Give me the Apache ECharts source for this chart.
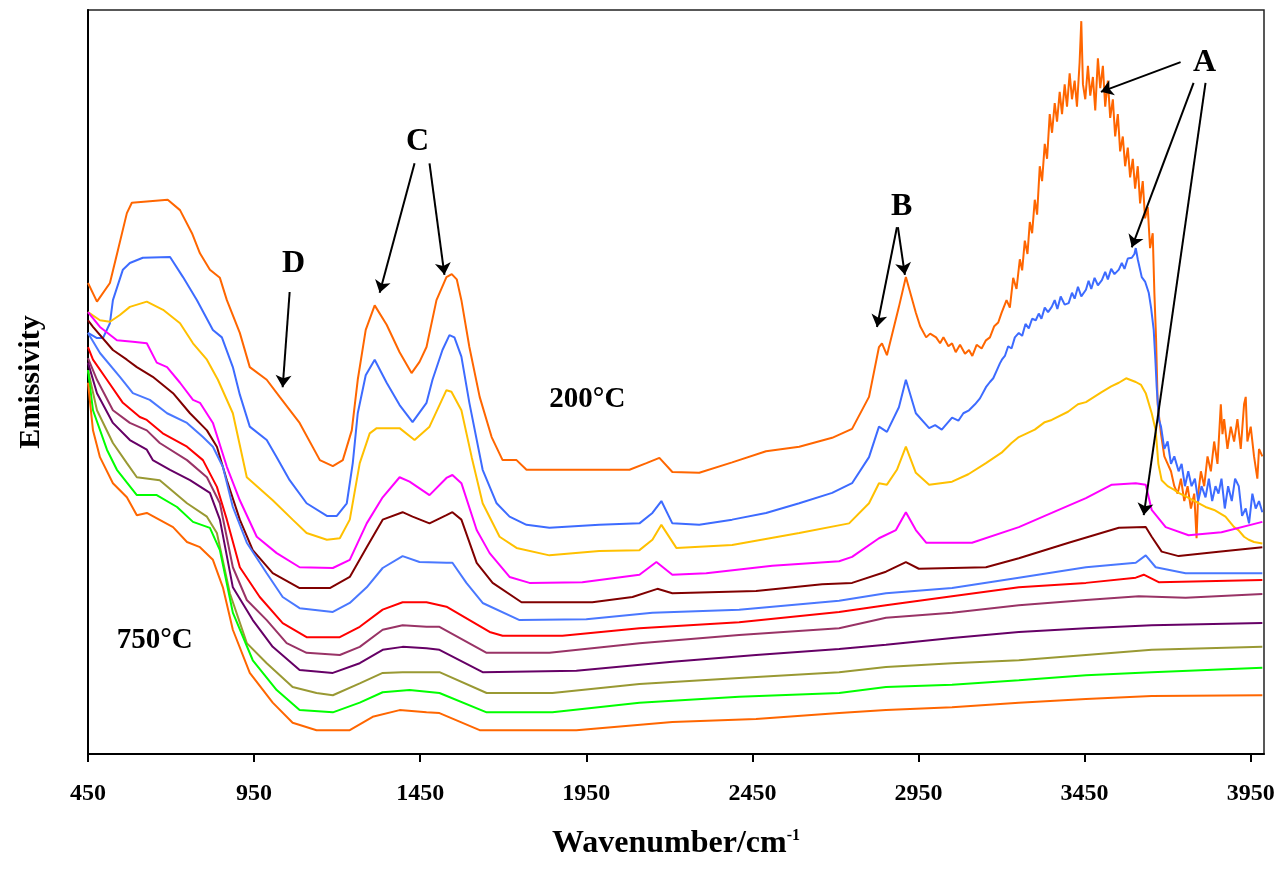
<!DOCTYPE html>
<html>
<head>
<meta charset="utf-8">
<script src="https://cdn.jsdelivr.net/npm/echarts@6/dist/echarts.min.js"></script>
<style>
    html, body { margin: 0; padding: 0; background: #fff; }
    #main { width: 1283px; height: 869px; }
</style>
</head>
<body>
<div id="main"></div>
<script>
(function (window) {
    "use strict";

    // wavenumber (cm-1), emissivity (a.u.), 200°C at top ... 750°C at bottom
    var s200 = [[450,.633],[477,.608],[516,.633],[540,.677],[567,.727],[582,.741],[636,.743],[690,.745],[727,.731],[763,.700],[787,.673],[817,.651],[847,.640],[868,.610],[907,.566],[937,.520],[988,.503],[1027,.480],[1087,.445],[1148,.395],[1187,.387],[1217,.395],[1244,.435],[1262,.503],[1286,.570],[1313,.603],[1349,.577],[1388,.540],[1424,.512],[1448,.527],[1469,.547],[1499,.610],[1529,.641],[1545,.645],[1560,.638],[1574,.610],[1598,.547],[1629,.480],[1665,.426],[1698,.395],[1740,.395],[1770,.382],[2080,.382],[2131,.391],[2170,.398],[2209,.379],[2290,.378],[2389,.392],[2491,.407],[2591,.413],[2690,.425],[2750,.437],[2801,.480],[2831,.547],[2840,.552],[2855,.536],[2891,.601],[2912,.641],[2942,.593],[2955,.575],[2973,.560],[2985,.565],[3003,.560],[3015,.552],[3025,.560],[3040,.548],[3051,.552],[3062,.540],[3075,.550],[3090,.538],[3102,.543],[3112,.535],[3125,.550],[3140,.545],[3153,.556],[3165,.560],[3178,.575],[3190,.580],[3200,.593],[3215,.610],[3225,.600],[3235,.640],[3245,.625],[3255,.665],[3262,.650],[3270,.690],[3278,.672],[3285,.715],[3292,.700],[3300,.745],[3307,.725],[3315,.790],[3322,.770],[3330,.820],[3337,.800],[3345,.860],[3352,.835],[3360,.875],[3367,.850],[3375,.890],[3382,.860],[3390,.900],[3397,.870],[3405,.915],[3412,.880],[3420,.905],[3427,.870],[3435,.930],[3440,.985],[3445,.900],[3452,.880],[3460,.925],[3467,.885],[3475,.910],[3482,.865],[3490,.935],[3497,.895],[3505,.925],[3512,.870],[3520,.905],[3527,.855],[3535,.880],[3542,.830],[3550,.860],[3557,.810],[3565,.830],[3572,.790],[3580,.815],[3587,.775],[3595,.800],[3602,.760],[3610,.790],[3617,.740],[3625,.770],[3632,.720],[3640,.735],[3647,.680],[3655,.700],[3660,.620],[3665,.560],[3670,.470],[3680,.430],[3690,.400],[3700,.390],[3710,.380],[3720,.360],[3730,.350],[3740,.370],[3750,.340],[3760,.360],[3770,.330],[3780,.350],[3787,.290],[3792,.350],[3800,.380],[3810,.360],[3820,.400],[3830,.380],[3840,.420],[3850,.390],[3860,.470],[3865,.430],[3870,.450],[3880,.410],[3890,.440],[3900,.420],[3910,.450],[3920,.410],[3930,.470],[3935,.480],[3940,.420],[3950,.440],[3960,.400],[3970,.370],[3975,.410],[3985,.400]];
    var s250 = [[450,.566],[477,.559],[495,.559],[516,.579],[525,.610],[555,.651],[576,.660],[615,.667],[697,.668],[736,.641],[778,.610],[826,.570],[853,.560],[886,.520],[907,.483],[937,.440],[988,.422],[1018,.399],[1057,.368],[1108,.337],[1169,.320],[1199,.320],[1229,.337],[1247,.391],[1262,.458],[1286,.509],[1313,.530],[1349,.499],[1388,.469],[1427,.446],[1469,.472],[1487,.503],[1517,.543],[1538,.563],[1553,.560],[1574,.534],[1598,.472],[1638,.382],[1680,.337],[1719,.319],[1770,.308],[1839,.304],[1989,.308],[2110,.310],[2149,.324],[2176,.340],[2209,.310],[2290,.308],[2389,.315],[2491,.324],[2591,.337],[2690,.351],[2750,.364],[2801,.399],[2831,.440],[2855,.433],[2891,.466],[2912,.503],[2942,.458],[2982,.438],[3000,.442],[3020,.436],[3051,.452],[3070,.448],[3085,.458],[3102,.462],[3120,.470],[3135,.478],[3153,.493],[3165,.500],[3175,.505],[3185,.515],[3195,.525],[3201,.530],[3210,.535],[3220,.548],[3230,.545],[3240,.560],[3252,.566],[3262,.562],[3272,.578],[3282,.572],[3292,.585],[3303,.583],[3312,.592],[3320,.585],[3330,.600],[3340,.594],[3351,.601],[3360,.610],[3368,.598],[3378,.615],[3390,.604],[3402,.606],[3412,.620],[3420,.612],[3430,.628],[3440,.615],[3454,.624],[3462,.636],[3470,.625],[3480,.640],[3490,.630],[3502,.637],[3512,.648],[3520,.638],[3530,.652],[3540,.645],[3553,.651],[3562,.660],[3570,.652],[3580,.666],[3592,.667],[3600,.672],[3604,.680],[3610,.665],[3622,.641],[3632,.635],[3643,.620],[3650,.600],[3658,.570],[3663,.530],[3667,.493],[3674,.449],[3680,.440],[3690,.410],[3700,.420],[3710,.390],[3720,.400],[3733,.380],[3742,.390],[3752,.360],[3762,.380],[3772,.360],[3782,.370],[3792,.340],[3802,.360],[3814,.345],[3824,.370],[3834,.340],[3844,.360],[3853,.350],[3862,.370],[3872,.330],[3882,.360],[3893,.340],[3903,.370],[3914,.360],[3924,.320],[3935,.330],[3945,.310],[3955,.350],[3965,.330],[3975,.340],[3985,.325]];
    var s300 = [[450,.594],[486,.583],[516,.581],[546,.590],[576,.601],[627,.608],[676,.597],[727,.579],[766,.552],[808,.530],[841,.503],[886,.458],[928,.372],[1006,.341],[1066,.315],[1108,.297],[1169,.288],[1208,.290],[1238,.315],[1268,.391],[1298,.431],[1319,.438],[1388,.438],[1433,.422],[1478,.440],[1529,.489],[1544,.487],[1574,.462],[1605,.399],[1638,.337],[1689,.292],[1740,.277],[1839,.267],[1989,.273],[2110,.274],[2149,.288],[2176,.308],[2221,.277],[2389,.281],[2591,.297],[2741,.310],[2801,.337],[2831,.364],[2855,.362],[2885,.382],[2912,.413],[2942,.378],[2982,.362],[3051,.366],[3100,.376],[3153,.391],[3200,.405],[3230,.418],[3252,.426],[3300,.436],[3330,.446],[3351,.449],[3400,.460],[3430,.470],[3454,.473],[3500,.486],[3530,.494],[3553,.499],[3575,.505],[3604,.500],[3620,.496],[3634,.485],[3652,.458],[3664,.435],[3672,.390],[3682,.368],[3700,.360],[3720,.355],[3733,.351],[3760,.345],[3790,.338],[3814,.332],[3840,.328],[3874,.319],[3900,.305],[3913,.301],[3930,.292],[3944,.288],[3960,.285],[3985,.283]];
    var s350 = [[450,.594],[486,.574],[537,.556],[585,.554],[627,.552],[657,.526],[688,.520],[727,.499],[766,.476],[787,.472],[826,.445],[868,.386],[907,.341],[958,.292],[1018,.270],[1087,.251],[1187,.250],[1238,.261],[1289,.310],[1337,.345],[1388,.372],[1418,.366],[1478,.348],[1529,.371],[1547,.375],[1574,.364],[1620,.301],[1659,.270],[1719,.238],[1779,.230],[1938,.231],[2110,.241],[2161,.258],[2209,.241],[2311,.243],[2510,.253],[2711,.259],[2750,.265],[2831,.290],[2882,.301],[2912,.325],[2942,.301],[2973,.284],[3111,.284],[3252,.305],[3351,.324],[3454,.344],[3532,.362],[3604,.364],[3634,.362],[3652,.328],[3694,.305],[3763,.294],[3862,.298],[3985,.312]];
    var s400 = [[450,.583],[465,.574],[525,.543],[567,.530],[597,.520],[645,.507],[706,.485],[757,.458],[808,.435],[838,.413],[868,.368],[907,.315],[946,.274],[1006,.243],[1087,.223],[1178,.223],[1238,.238],[1289,.278],[1337,.315],[1397,.325],[1427,.319],[1478,.310],[1529,.321],[1547,.325],[1574,.315],[1620,.257],[1668,.230],[1755,.204],[1968,.204],[2089,.211],[2164,.222],[2209,.216],[2461,.219],[2660,.228],[2750,.230],[2852,.245],[2912,.258],[2951,.249],[3153,.251],[3252,.263],[3402,.284],[3553,.304],[3634,.305],[3652,.292],[3682,.272],[3733,.266],[3853,.272],[3985,.278]];
    var s450 = [[450,.566],[486,.539],[546,.507],[585,.485],[636,.476],[688,.458],[748,.445],[796,.426],[826,.413],[856,.386],[886,.332],[928,.284],[988,.243],[1036,.211],[1087,.196],[1187,.191],[1238,.203],[1289,.224],[1337,.250],[1397,.266],[1448,.258],[1529,.257],[1547,.257],[1589,.230],[1638,.203],[1749,.180],[1950,.181],[2149,.190],[2410,.194],[2711,.206],[2852,.216],[3051,.223],[3252,.237],[3454,.251],[3604,.257],[3634,.267],[3664,.251],[3754,.243],[3985,.243]];
    var s500 = [[450,.547],[465,.530],[507,.503],[555,.472],[606,.453],[627,.449],[675,.431],[748,.413],[796,.395],[838,.359],[868,.315],[907,.251],[967,.211],[1036,.176],[1108,.157],[1208,.157],[1268,.171],[1337,.194],[1397,.204],[1469,.204],[1529,.198],[1659,.164],[1698,.159],[1878,.159],[2110,.169],[2410,.177],[2711,.191],[2852,.200],[3051,.212],[3252,.224],[3454,.230],[3604,.237],[3628,.241],[3673,.231],[3985,.234]];
    var s550 = [[450,.532],[477,.503],[525,.462],[576,.445],[627,.435],[666,.418],[748,.395],[808,.372],[847,.337],[886,.251],[928,.207],[988,.180],[1048,.149],[1108,.136],[1208,.133],[1268,.144],[1337,.167],[1397,.173],[1469,.171],[1508,.171],[1650,.136],[1839,.136],[2110,.149],[2410,.160],[2711,.169],[2852,.183],[3051,.190],[3252,.200],[3454,.207],[3613,.212],[3754,.210],[3985,.215]];
    var s600 = [[450,.526],[477,.485],[525,.445],[576,.422],[627,.409],[645,.395],[697,.382],[757,.368],[817,.351],[847,.315],[886,.224],[946,.180],[1006,.144],[1087,.113],[1187,.109],[1268,.122],[1337,.140],[1397,.144],[1469,.142],[1508,.140],[1638,.110],[1920,.112],[2209,.124],[2461,.133],[2711,.141],[2852,.147],[3051,.156],[3252,.164],[3454,.169],[3652,.173],[3985,.176]];
    var s650 = [[450,.516],[477,.462],[525,.418],[567,.391],[597,.372],[666,.368],[748,.337],[808,.319],[838,.297],[877,.216],[928,.149],[988,.122],[1066,.090],[1138,.082],[1187,.079],[1268,.095],[1337,.109],[1397,.110],[1478,.110],[1508,.110],[1650,.082],[1848,.082],[2110,.094],[2410,.102],[2711,.110],[2852,.117],[3051,.122],[3252,.126],[3454,.133],[3652,.140],[3985,.144]];
    var s700 = [[450,.516],[465,.462],[507,.409],[537,.382],[597,.348],[657,.348],[718,.332],[766,.312],[817,.304],[847,.274],[886,.190],[946,.126],[1018,.086],[1087,.059],[1187,.056],[1268,.069],[1337,.083],[1418,.086],[1508,.082],[1650,.056],[1848,.056],[2110,.069],[2410,.077],[2711,.082],[2852,.090],[3051,.093],[3252,.099],[3454,.106],[3652,.110],[3985,.116]];
    var s750 = [[450,.499],[465,.435],[486,.399],[525,.364],[567,.345],[597,.321],[627,.324],[706,.305],[748,.285],[787,.278],[826,.261],[856,.224],[886,.167],[937,.109],[1006,.069],[1066,.042],[1138,.032],[1238,.032],[1307,.050],[1388,.059],[1469,.056],[1508,.055],[1629,.032],[1920,.032],[2209,.043],[2461,.047],[2711,.055],[2852,.059],[3051,.063],[3252,.069],[3454,.074],[3652,.078],[3985,.079]];

    var temps = ['200°C', '250°C', '300°C', '350°C', '400°C', '450°C', '500°C', '550°C', '600°C', '650°C', '700°C', '750°C'];
    var spectra = [s200, s250, s300, s350, s400, s450, s500, s550, s600, s650, s700, s750];
    var colors = ['#ff6600', '#3d6bff', '#ffc000', '#ff00ff', '#800000', '#4a78ff',
                  '#ff0000', '#993366', '#660066', '#999933', '#00ff00', '#ff6600'];

    // tick labels on the wavenumber axis
    var xTicks = [450, 950, 1450, 1950, 2450, 2950, 3450, 3950];

    // band annotations (arrows start -> end) and text, in data units
    var arrows = [
        [[3739, .930], [3499, .890]],
        [[3778, .902], [3592, .681]],
        [[3814, .902], [3628, .321]],
        [[2885, .708], [2825, .574]],
        [[2888, .708], [2909, .644]],
        [[1433, .794], [1328, .620]],
        [[1478, .794], [1523, .644]],
        [[1057, .621], [1036, .493]]
    ];
    var letters = [['A', 3811, .929], ['B', 2899, .735], ['C', 1442, .823], ['D', 1069, .659]];
    var tempNotes = [['200°C', 1953, .476], ['750°C', 651, .153]];

    var FONT = '"Liberation Serif", "Times New Roman", serif';

    var series = spectra.map(function (d, i) {
        return {
            name: temps[i],
            type: 'line',
            data: d,
            symbol: 'none',
            animation: false,
            lineStyle: { width: 2, color: colors[i] },
            itemStyle: { color: colors[i] }
        };
    });

    var textMark = function (n, size) {
        return {
            coord: [n[1], n[2]],
            label: { formatter: n[0], fontSize: size }
        };
    };

    series[0].markLine = {
        silent: true,
        animation: false,
        symbol: ['none', 'arrow'],
        symbolSize: 12,
        lineStyle: { color: '#000', width: 2, type: 'solid' },
        label: { show: false },
        data: arrows.map(function (a) {
            return [{ coord: a[0] }, { coord: a[1] }];
        })
    };
    series[0].markPoint = {
        silent: true,
        animation: false,
        symbol: 'circle',
        symbolSize: 1,
        itemStyle: { color: 'rgba(0,0,0,0)' },
        label: {
            show: true, position: 'inside', color: '#000',
            fontFamily: FONT, fontWeight: 'bold'
        },
        data: letters.map(function (n) { return textMark(n, 32); })
            .concat(tempNotes.map(function (n) { return textMark(n, 29); }))
    };

    var chart = window.echarts.init(document.getElementById('main'));
    var option = {
        backgroundColor: '#fff',
        animation: false,
        grid: {
            left: 88, right: 19, top: 10, bottom: 115,
            show: true, borderColor: '#222', borderWidth: 1.5
        },
        xAxis: {
            type: 'value',
            min: 450,
            max: 3990,
            interval: 500,
            name: '{t|Wavenumber/cm}{s|-1}',
            nameLocation: 'middle',
            nameGap: 74,
            nameTextStyle: {
                rich: {
                    t: { fontFamily: FONT, fontWeight: 'bold', fontSize: 32, color: '#000' },
                    s: { fontFamily: FONT, fontWeight: 'bold', fontSize: 16, color: '#000', verticalAlign: 'top', padding: [0, 0, 16, 0] }
                }
            },
            axisLine: { onZero: false, lineStyle: { color: '#000', width: 2 } },
            axisTick: { length: 8, customValues: xTicks, lineStyle: { color: '#000', width: 2 } },
            axisLabel: {
                customValues: xTicks,
                formatter: function (v) { return String(v); },
                margin: 28, color: '#000',
                fontFamily: FONT, fontWeight: 'bold', fontSize: 24
            },
            splitLine: { show: false }
        },
        yAxis: {
            type: 'value',
            min: 0,
            max: 1,
            name: 'Emissivity',
            nameLocation: 'middle',
            nameGap: 42,
            nameTextStyle: { fontFamily: FONT, fontWeight: 'bold', fontSize: 30, color: '#000' },
            axisLine: { show: true, lineStyle: { color: '#000', width: 2 } },
            axisTick: { show: false },
            axisLabel: { show: false },
            splitLine: { show: false }
        },
        series: series
    };
    chart.setOption(option);

})(window);
</script>
</body>
</html>
